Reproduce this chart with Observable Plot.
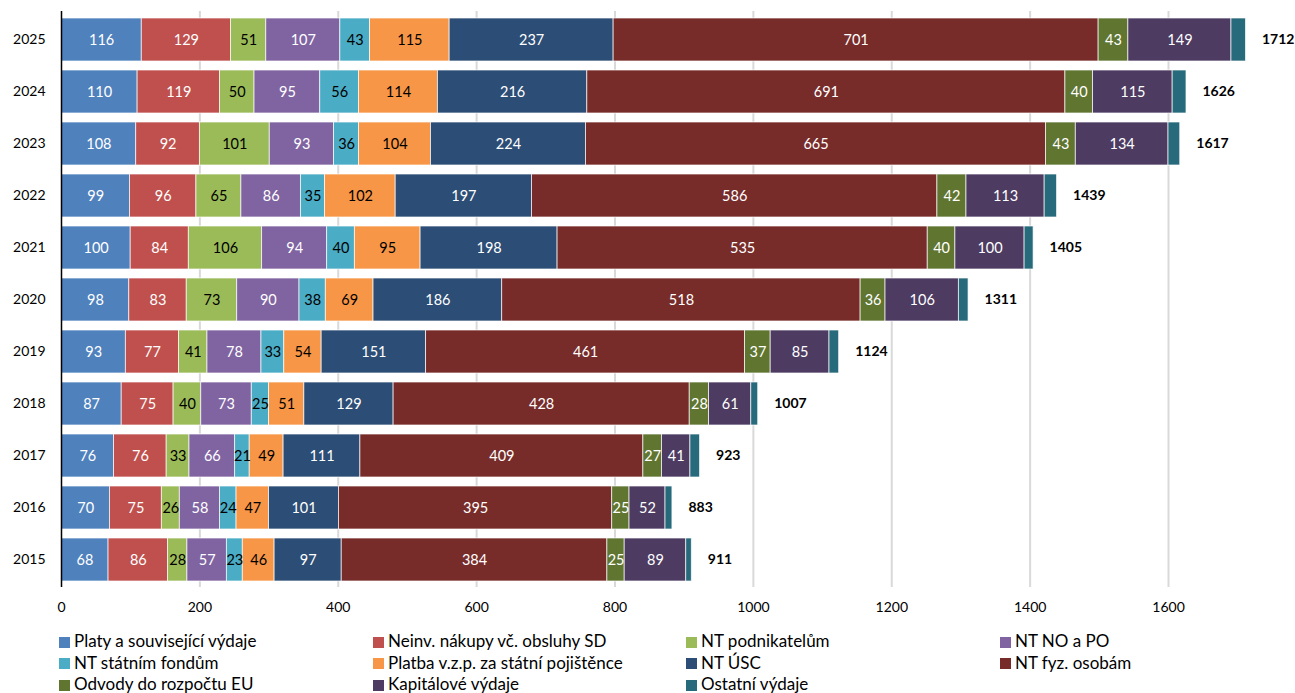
<!DOCTYPE html>
<html>
<head>
<meta charset="utf-8">
<script src="https://cdn.jsdelivr.net/npm/d3@7"></script>
<script src="https://cdn.jsdelivr.net/npm/@observablehq/plot@0.6"></script>
<style>
  html, body { margin: 0; padding: 0; background: #fff; overflow: hidden; }
  #wrap { position: relative; width: 1295px; height: 693px; font-family: Lato, "Open Sans", sans-serif; }
  #chart { position: absolute; left: 0; top: 0; }
  #legend { position: absolute; left: 0; top: 630px; width: 1295px; }
  .li { position: absolute; height: 22px; line-height: 22px; font-size: 17px; color: #000; white-space: nowrap; }
  .sw { display: inline-block; width: 11px; height: 11px; margin-right: 4px; vertical-align: -0.5px; }
</style>
</head>
<body>
<div id="wrap">
  <div id="chart"></div>
  <div id="legend"></div>
</div>
<script>
const years = ["2025","2024","2023","2022","2021","2020","2019","2018","2017","2016","2015"];
const seriesNames = [
  "Platy a související výdaje",
  "Neinv. nákupy vč. obsluhy SD",
  "NT podnikatelům",
  "NT NO a PO",
  "NT státním fondům",
  "Platba v.z.p. za státní pojištěnce",
  "NT ÚSC",
  "NT fyz. osobám",
  "Odvody do rozpočtu EU",
  "Kapitálové výdaje",
  "Ostatní výdaje"
];
const colors = ["#4F81BD","#C0504D","#9BBB59","#8064A2","#4BACC6","#F79646","#2C4D75","#772C2A","#5F7530","#4D3B62","#276A7C"];
const labelColors = ["#fff","#fff","#000","#fff","#000","#000","#fff","#fff","#fff","#fff","#fff"];

const platy   = [116,110,108, 99,100, 98, 93, 87, 76, 70, 68];
const neinv   = [129,119, 92, 96, 84, 83, 77, 75, 76, 75, 86];
const podnik  = [ 51, 50,101, 65,106, 73, 41, 40, 33, 26, 28];
const nopo    = [107, 95, 93, 86, 94, 90, 78, 73, 66, 58, 57];
const fondy   = [ 43, 56, 36, 35, 40, 38, 33, 25, 21, 24, 23];
const platba  = [115,114,104,102, 95, 69, 54, 51, 49, 47, 46];
const usc     = [237,216,224,197,198,186,151,129,111,101, 97];
const fyz     = [701,691,665,586,535,518,461,428,409,395,384];
const odvody  = [ 43, 40, 43, 42, 40, 36, 37, 28, 27, 25, 25];
const kapit   = [149,115,134,113,100,106, 85, 61, 41, 52, 89];
const ostatni = [ 21, 20, 17, 18, 13, 14, 14, 10, 14, 10,  8];
const totals  = [1712,1626,1617,1439,1405,1311,1124,1007,923,883,911];
const xTicks  = [0,200,400,600,800,1000,1200,1400,1600];

const seriesValues = [platy, neinv, podnik, nopo, fondy, platba, usc, fyz, odvody, kapit, ostatni];
const showLabel = [true,true,true,true,true,true,true,true,true,true,false];

const rows = [];
seriesValues.forEach((vals, si) => {
  vals.forEach((v, yi) => {
    rows.push({year: years[yi], series: seriesNames[si], si, value: v});
  });
});
const totalRows = years.map((y, i) => ({year: y, total: totals[i]}));

const W = 1295;
const marginLeft = 61;
const pxPerUnit = 1107 / 1600;
const xMax = 1700;
const marginRight = W - (marginLeft + xMax * pxPerUnit);

const chart = Plot.plot({
  width: W,
  height: 620,
  marginLeft,
  marginRight,
  marginTop: 11,
  marginBottom: 33,
  style: {fontFamily: "Lato, 'Open Sans', sans-serif", fontSize: "14px", color: "#000", background: "#fff", overflow: "visible"},
  x: {domain: [0, xMax], ticks: xTicks, tickSize: 0, tickPadding: 15, label: null, tickFormat: d => String(d)},
  y: {domain: years, paddingInner: 0.18, paddingOuter: 0.09, tickSize: 0, tickPadding: 16, label: null},
  color: {domain: seriesNames, range: colors},
  marks: [
    Plot.ruleX(xTicks.filter(d => d > 0), {stroke: "#d9d9d9", strokeWidth: 2}),
    Plot.barX(rows, Plot.stackX({x: "value", y: "year", z: "series", fill: "series", order: null, stroke: "#ffffff", strokeWidth: 0.8, strokeOpacity: 0.85})),
    Plot.text(rows, Plot.stackX({x: "value", y: "year", z: "series", order: null,
      text: d => showLabel[d.si] ? String(d.value) : "",
      fill: d => labelColors[d.si], fontSize: 14.5})),
    Plot.text(totalRows, {x: "total", y: "year", text: d => String(d.total), textAnchor: "start", dx: 16, fontWeight: "bold", fontSize: 14, fill: "#000"}),
    Plot.ruleX([0], {stroke: "#000", strokeWidth: 1.5})
  ]
});
document.getElementById("chart").appendChild(chart);

const legend = document.getElementById("legend");
const colX = [59, 373, 686, 1000];
seriesNames.forEach((name, i) => {
  const r = Math.floor(i / 4), c = i % 4;
  const el = document.createElement("div");
  el.className = "li";
  el.style.left = colX[c] + "px";
  el.style.top = (r * 21.7) + "px";
  el.innerHTML = `<span class="sw" style="background:${colors[i]}"></span>${name}`;
  legend.appendChild(el);
});
</script>
</body>
</html>
